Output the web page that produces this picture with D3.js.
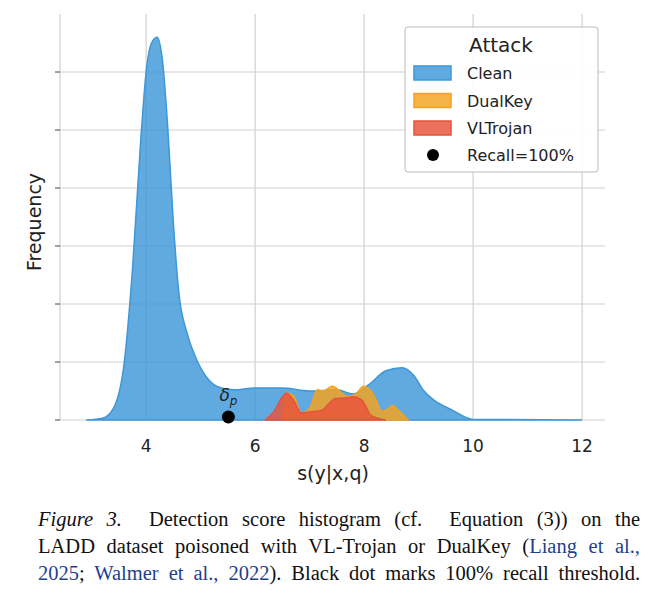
<!DOCTYPE html>
<html><head><meta charset="utf-8">
<script src="https://cdn.jsdelivr.net/npm/d3@7"></script>
<style>
body{margin:0;background:#fff;}
.cap{position:absolute;left:38px;top:506px;width:602px;font-family:"Liberation Serif",serif;font-size:20.5px;line-height:27px;color:#111;}
.cap div{text-align:justify;text-align-last:justify;white-space:nowrap;}
.cap span.c{color:#1f3f8f;}
</style></head>
<body>
<div id="graph"></div>
<div class="cap">
<div><i>Figure 3.</i>&nbsp; Detection score histogram (cf.&nbsp; Equation (3)) on the</div>
<div>LADD dataset poisoned with VL-Trojan or DualKey (<span class="c">Liang et al.,</span></div>
<div><span class="c">2025</span>; <span class="c">Walmer et al., 2022</span>). Black dot marks 100% recall threshold.</div>
</div>
<script>
var width = 660, height = 613;
var xTicks = [4,6,8,10,12];
var yTicks = [0,1,2,3,4,5,6];
var cleanX = [2.9,3.2,3.4,3.6,3.75,3.9,4.0,4.1,4.2,4.3,4.4,4.5,4.6,4.75,4.9,5.1,5.3,5.6,6.0,6.5,7.0,7.5,7.8,8.1,8.4,8.7,8.9,9.1,9.3,9.6,10.0,12.0];
var cleanY = [0,0.03,0.2,1.0,2.6,4.8,6.0,6.5,6.6,6.2,5.0,3.4,2.2,1.5,1.1,0.75,0.58,0.52,0.55,0.55,0.5,0.52,0.45,0.62,0.85,0.9,0.78,0.5,0.33,0.18,0.01,0];
var dualX = [6.5,6.57,6.7,6.85,7.0,7.14,7.25,7.42,7.55,7.7,7.85,7.99,8.1,8.18,8.33,8.45,8.52,8.65,8.81];
var dualY = [0,0.46,0.42,0.12,0.2,0.52,0.5,0.58,0.5,0.4,0.45,0.58,0.52,0.42,0.15,0.2,0.25,0.15,0];
var vlX = [6.19,6.35,6.5,6.57,6.7,6.85,7.0,7.23,7.35,7.48,7.65,7.8,7.95,8.05,8.11,8.25,8.4];
var vlY = [0,0.15,0.4,0.46,0.35,0.12,0.14,0.17,0.28,0.37,0.38,0.4,0.35,0.2,0.09,0.03,0];
var dotX = 5.51;
var series = [
  {name:"Clean", xs:cleanX, ys:cleanY, color:"#3d97d8"},
  {name:"DualKey", xs:dualX, ys:dualY, color:"#f5a21f"},
  {name:"VLTrojan", xs:vlX, ys:vlY, color:"#e8523c"}
];

var svg = d3.select("div#graph").append("svg").attr("width",width).attr("height",height);
var x = d3.scaleLinear().domain([2.42,12.42]).range([60,605]);
var y = d3.scaleLinear().domain([0,7]).range([420,14]);

var g = svg.append("g");
g.selectAll("line.vx").data(xTicks).enter().append("line")
  .attr("x1",d=>x(d)).attr("x2",d=>x(d)).attr("y1",14).attr("y2",420)
  .style("stroke","#d0d0d0").style("stroke-width",1.2);
g.selectAll("line.hy").data(yTicks).enter().append("line")
  .attr("x1",60).attr("x2",605).attr("y1",d=>y(d)).attr("y2",d=>y(d))
  .style("stroke","#d0d0d0").style("stroke-width",1.2);
g.append("line").attr("x1",60).attr("x2",60).attr("y1",14).attr("y2",420).style("stroke","#d0d0d0").style("stroke-width",1.2);
g.selectAll("line.yt").data(yTicks).enter().append("line")
  .attr("x1",55).attr("x2",60).attr("y1",d=>y(d)).attr("y2",d=>y(d)).style("stroke","#444");

var area = d3.area().x(d=>x(d[0])).y0(y(0)).y1(d=>y(d[1])).curve(d3.curveMonotoneX);
series.forEach(function(s){
  svg.append("path").datum(s.xs.map((v,i)=>[v,s.ys[i]]))
    .attr("d",area).style("fill",s.color).style("fill-opacity",0.82)
    .style("stroke",s.color).style("stroke-width",1.5);
});

svg.selectAll("text.xt").data(xTicks).enter().append("text")
  .attr("x",d=>x(d)).attr("y",452).attr("text-anchor","middle")
  .style("font-family","DejaVu Sans").style("font-size","17px").style("fill","#222").text(d=>d);
svg.append("text").attr("x",333).attr("y",480).attr("text-anchor","middle")
  .style("font-family","DejaVu Sans").style("font-size","19px").style("fill","#222").text("s(y|x,q)");
svg.append("text").attr("transform","translate(41,222) rotate(-90)").attr("text-anchor","middle")
  .style("font-family","DejaVu Sans").style("font-size","19px").style("fill","#222").text("Frequency");

svg.append("circle").attr("cx",x(dotX)).attr("cy",y(0)-3).attr("r",6.5).style("fill","#000");
svg.append("text").attr("x",x(dotX)).attr("y",401).attr("text-anchor","middle")
  .style("font-family","DejaVu Sans").style("font-size","17px").style("font-style","italic").style("fill","#222")
  .html('δ<tspan font-size="12px" dy="4">p</tspan>');

// legend
var lg = svg.append("g");
lg.append("rect").attr("x",405).attr("y",27).attr("width",193).attr("height",145).attr("rx",3)
  .style("fill","#fff").style("fill-opacity",0.9).style("stroke","#bbb");
lg.append("text").attr("x",501).attr("y",52).attr("text-anchor","middle")
  .style("font-family","DejaVu Sans").style("font-size","20px").style("fill","#222").text("Attack");
series.forEach(function(s,i){
  var yy = 73+i*27.5;
  lg.append("rect").attr("x",414).attr("y",yy-7).attr("width",37).attr("height",14)
    .style("fill",s.color).style("fill-opacity",0.82).style("stroke",s.color).style("stroke-width",1.5);
  lg.append("text").attr("x",467).attr("y",yy+6).style("font-family","DejaVu Sans").style("font-size","16px").style("fill","#222").text(s.name);
});
lg.append("circle").attr("cx",433).attr("cy",155).attr("r",6).style("fill","#000");
lg.append("text").attr("x",467).attr("y",161).style("font-family","DejaVu Sans").style("font-size","16px").style("fill","#222").text("Recall=100%");
</script>
</body></html>
